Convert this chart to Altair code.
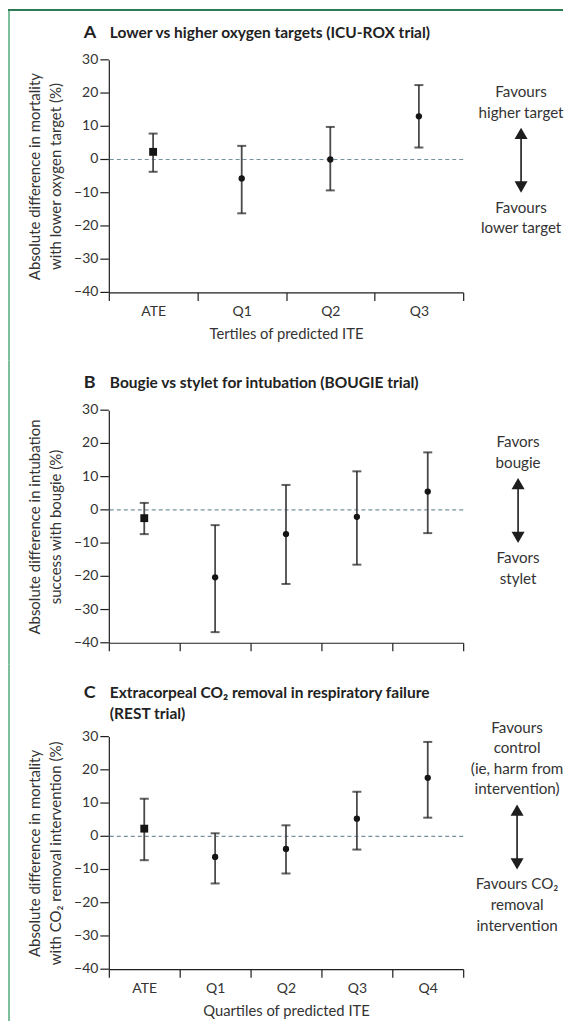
import altair as alt
import pandas as pd

FONT = "Lato"
W = 355
H = 233

# ---------------- data ----------------
a_cats = ["ATE", "Q1", "Q2", "Q3"]
a_est = [2.3, -5.7, 0.0, 13.0]
a_lo = [-3.7, -16.2, -9.3, 3.6]
a_hi = [7.8, 4.1, 9.8, 22.4]

b_cats = ["ATE", "Q1", "Q2", "Q3", "Q4"]
b_est = [-2.5, -20.3, -7.3, -2.1, 5.5]
b_lo = [-7.3, -36.8, -22.3, -16.5, -7.0]
b_hi = [2.1, -4.6, 7.5, 11.6, 17.3]

c_cats = ["ATE", "Q1", "Q2", "Q3", "Q4"]
c_est = [2.3, -6.2, -3.8, 5.3, 17.6]
c_lo = [-7.2, -14.2, -11.2, -4.0, 5.6]
c_hi = [11.3, 0.9, 3.3, 13.4, 28.4]

y_ticks = [-40, -30, -20, -10, 0, 10, 20, 30]

a_title = ["Lower vs higher oxygen targets (ICU-ROX trial)"]
b_title = ["Bougie vs stylet for intubation (BOUGIE trial)"]
c_title = ["Extracorpeal CO\u2082 removal in respiratory failure", "(REST trial)"]

a_ytitle = ["Absolute difference in mortality", "with lower oxygen target (%)"]
b_ytitle = ["Absolute difference in intubation", "success with bougie (%)"]
c_ytitle = ["Absolute difference in mortality", "with CO\u2082 removal intervention (%)"]

a_xtitle = "Tertiles of predicted ITE"
c_xtitle = "Quartiles of predicted ITE"

a_up = ["Favours", "higher target"]
a_down = ["Favours", "lower target"]
b_up = ["Favors", "bougie"]
b_down = ["Favors", "stylet"]
c_up = ["Favours", "control", "(ie, harm from", "intervention)"]
c_down = ["Favours CO\u2082", "removal", "intervention"]

ONE = pd.DataFrame({"k": [0]})
TICKS = pd.DataFrame({"v": y_ticks,
                      "lab": [str(v).replace("-", "\u2212") for v in y_ticks]})
TXT = "#333333"
INK = "#1e1e1e"


def const_text(text, x, y, size=15.2, weight="normal", align="center", color=TXT):
    return alt.Chart(ONE).mark_text(
        text=text, font=FONT, fontSize=size, fontWeight=weight,
        align=align, baseline="middle", color=color
    ).encode(x=alt.value(x), y=alt.value(y))


def panel(letter, title_lines, title_y, cats, est, lo, hi, ytitle, xtitle,
          show_labels, up, down, ann_x, frame_top, frame_bottom, top_line):
    df = pd.DataFrame({"cat": cats, "est": est, "lo": lo, "hi": hi})
    yscale = alt.Scale(domain=[-40, 30], nice=False, zero=False)
    yaxis = alt.Axis(
        title=ytitle, labels=False, ticks=False, grid=False,
        domainColor=INK, domainWidth=1.2,
        titleFont=FONT, titleFontSize=15, titleFontWeight="normal",
        titleColor=TXT, titlePadding=45, titleLineHeight=21,
    )
    xaxis = alt.Axis(
        title=xtitle, labels=show_labels, labelAngle=0, tickBand="extent", grid=False,
        labelFont=FONT, labelFontSize=14, labelColor=TXT, labelPadding=4,
        tickSize=8, tickColor=INK, tickWidth=1.2,
        domainColor=INK, domainWidth=1.2,
        titleFont=FONT, titleFontSize=14.8, titleFontWeight="normal",
        titleColor=TXT, titlePadding=8,
    )
    x = alt.X("cat:N", sort=cats,
              scale=alt.Scale(type="band", domain=cats, paddingInner=0, paddingOuter=0),
              axis=xaxis)
    base = alt.Chart(df).encode(x=x)

    bars = base.mark_rule(color="#4a4a4a", strokeWidth=1.8).encode(
        y=alt.Y("lo:Q", scale=yscale, axis=yaxis), y2="hi:Q")

    zero = alt.Chart(ONE).mark_rule(
        strokeDash=[4, 3], color="#7592a0", strokeWidth=1.2
    ).encode(y=alt.YDatum(0, type="quantitative", scale=yscale, axis=yaxis))

    cap_hi = base.mark_tick(color=INK, size=9, thickness=2).encode(
        y=alt.Y("hi:Q", scale=yscale, axis=yaxis))
    cap_lo = base.mark_tick(color=INK, size=9, thickness=2).encode(
        y=alt.Y("lo:Q", scale=yscale, axis=yaxis))
    pts = base.mark_point(filled=True, opacity=1, color="#151515").encode(
        y=alt.Y("est:Q", scale=yscale, axis=yaxis),
        shape=alt.condition("datum.cat == 'ATE'", alt.value("square"), alt.value("circle")),
        size=alt.condition("datum.cat == 'ATE'", alt.value(62), alt.value(40)),
    )

    # y ticks and tick labels drawn from the tick list
    yt = alt.Chart(TICKS).mark_rule(color=INK, strokeWidth=1.2).encode(
        x=alt.value(-8.5), x2=alt.value(0), y=alt.Y("v:Q", scale=yscale, axis=yaxis))
    yl = alt.Chart(TICKS).mark_text(font=FONT, fontSize=14, color=TXT, align="right",
                                    baseline="middle").encode(
        x=alt.value(-10.5), y=alt.Y("v:Q", scale=yscale, axis=yaxis), text="lab:N")

    layers = [zero, bars, cap_hi, cap_lo, pts, yt, yl]

    # frame (journal side bar)
    layers.append(alt.Chart(ONE).mark_rect(color="#7dbf9c").encode(
        x=alt.value(-101), x2=alt.value(-99), y=alt.value(frame_top), y2=alt.value(frame_bottom)))
    if top_line:
        layers.append(alt.Chart(ONE).mark_rect(color="#2d7a55").encode(
            x=alt.value(-101), x2=alt.value(455), y=alt.value(frame_top), y2=alt.value(frame_top + 2)))

    # panel letter and title
    layers.append(const_text(letter, -25, title_y, size=18, weight="bold", align="left", color="#222222"))
    for i, line in enumerate(title_lines):
        layers.append(const_text(line, 1, title_y + i * 21, size=15.5, weight="bold",
                                 align="left", color="#222222"))

    # direction annotation
    lh = 20.7
    n = len(up)
    for i, line in enumerate(up):
        layers.append(const_text(line, ann_x, 53 - (n - 1 - i) * lh))
    for i, line in enumerate(down):
        layers.append(const_text(line, ann_x, 148 + i * lh))
    layers.append(alt.Chart(ONE).mark_rule(color="#333333", strokeWidth=1.8).encode(
        x=alt.value(ann_x), y=alt.value(74), y2=alt.value(127)))
    layers.append(alt.Chart(ONE).mark_point(shape="triangle-up", filled=True, opacity=1,
                                            size=170, color=INK).encode(
        x=alt.value(ann_x), y=alt.value(73.6)))
    layers.append(alt.Chart(ONE).mark_point(shape="triangle-down", filled=True, opacity=1,
                                            size=170, color=INK).encode(
        x=alt.value(ann_x), y=alt.value(127.4)))

    return alt.layer(*layers).properties(width=W, height=H)


pa = panel("A", a_title, -27, a_cats, a_est, a_lo, a_hi, a_ytitle, a_xtitle, True,
           a_up, a_down, 413, -51, 301, True)
pb = panel("B", b_title, -27, b_cats, b_est, b_lo, b_hi, b_ytitle, None, False,
           b_up, b_down, 410, -50, 255, False)
pc = panel("C", c_title, -44, c_cats, c_est, c_lo, c_hi, c_ytitle, c_xtitle, True,
           c_up, c_down, 409, -72, 285, False)

chart = alt.vconcat(pa, pb, pc, spacing=0).properties(
    padding={"left": 0, "top": 0, "right": 0, "bottom": 0},
    background="white",
).configure_view(strokeWidth=0)

chart.save("out.html", embed_options={"renderer": "svg", "actions": False})
